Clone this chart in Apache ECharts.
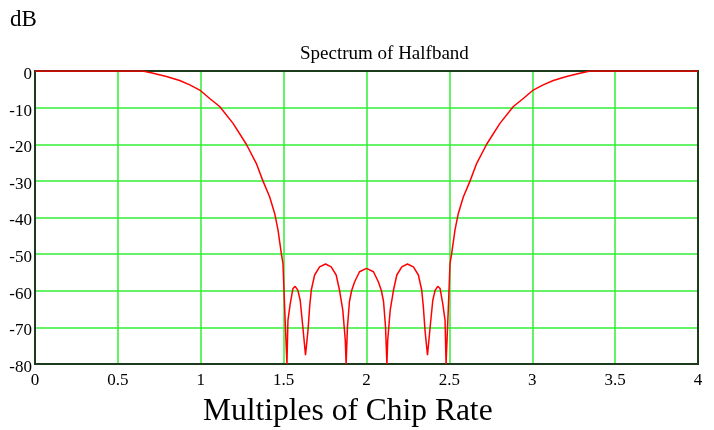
<!DOCTYPE html>
<html>
<head>
<meta charset="utf-8">
<script src="https://cdn.jsdelivr.net/npm/echarts@6/dist/echarts.min.js"></script>
<style>html,body{margin:0;padding:0;background:#fff}#c{width:714px;height:430px}</style>
</head>
<body>
<div id="c"></div>
<script>
var freq = [0,0.65,0.713,0.793,0.873,0.934,0.994,1.054,1.114,1.195,1.275,1.335,1.375,1.416,1.446,1.466,1.486,1.496,1.506,1.52,1.526,1.540,1.556,1.570,1.586,1.600,1.616,1.632,1.647,1.657,1.667,1.687,1.717,1.753,1.787,1.817,1.837,1.857,1.872,1.877,1.885,1.897,1.91,1.928,1.958,2.0,
  2.042,2.072,2.09,2.103,2.115,2.123,2.128,2.143,2.163,2.183,2.213,2.247,2.283,2.313,2.333,2.343,2.353,2.368,2.384,2.400,2.414,2.430,2.444,2.460,2.474,2.48,2.494,2.504,2.514,2.534,2.554,2.584,2.625,2.665,2.725,2.805,2.886,2.946,3.006,3.066,3.127,3.207,3.287,3.35,4];
var magnitude = [0,0,-0.6,-1.5,-2.6,-3.8,-5.2,-7.5,-9.7,-14.3,-20,-25.2,-30,-34.4,-38.9,-43.4,-49.8,-52.5,-64.4,-80,-68.1,-63.5,-59.4,-58.8,-59.9,-62.6,-69.9,-77.6,-70.8,-64.4,-59.8,-55.7,-53.5,-52.7,-53.5,-55.7,-59.8,-65.3,-73.5,-80,-70,-63,-60,-57.6,-54.8,-53.9,
  -54.8,-57.6,-60,-63,-70,-80,-73.5,-65.3,-59.8,-55.7,-53.5,-52.7,-53.5,-55.7,-59.8,-64.4,-70.8,-77.6,-69.9,-62.6,-59.9,-58.8,-59.4,-63.5,-68.1,-80,-64.4,-52.5,-49.8,-43.4,-38.9,-34.4,-30,-25.2,-20,-14.3,-9.7,-7.5,-5.2,-3.8,-2.6,-1.5,-0.6,0,0];
var xTicks = [0,0.5,1,1.5,2,2.5,3,3.5,4];
var yTicks = [0,-10,-20,-30,-40,-50,-60,-70,-80];
var chartTitle = 'Spectrum of Halfband';
var yName = 'dB';
var xName = 'Multiples of Chip Rate';

var serif = '"Liberation Serif","DejaVu Serif",serif';
var frame = '#1c3a1c';
var gridGreen = '#33ee33';
var points = freq.map(function(f,i){return [f, magnitude[i]];});
var xMin = xTicks[0], xMax = xTicks[xTicks.length-1];
var yMin = yTicks[yTicks.length-1], yMax = yTicks[0];
var chart = echarts.init(document.getElementById('c'));
chart.setOption({
  animation:false,
  backgroundColor:'#fff',
  title:[
    {text:yName,left:10,top:8,padding:0,textStyle:{fontFamily:serif,fontSize:23,fontWeight:'normal',color:'#000'}},
    {text:chartTitle,left:300,top:45,padding:0,textStyle:{fontFamily:serif,fontSize:19,fontWeight:'normal',color:'#000'}},
    {text:xName,left:203,top:396,padding:0,textStyle:{fontFamily:serif,fontSize:31.5,fontWeight:'normal',color:'#000'}}
  ],
  grid:{left:35,right:16,top:71,bottom:66,show:true,borderColor:frame,borderWidth:2,backgroundColor:'transparent'},
  xAxis:[
    {type:'value',min:xMin,max:xMax,interval:0.5,position:'bottom',
      axisLine:{show:true,onZero:false,lineStyle:{color:frame,width:2}},
      axisTick:{show:false},
      axisLabel:{margin:8,fontFamily:serif,fontSize:17,color:'#000'},
      splitLine:{show:true,lineStyle:{color:gridGreen,width:1.5}}},
    {type:'value',min:xMin,max:xMax,interval:0.5,position:'top',
      axisLine:{show:true,onZero:false,lineStyle:{color:frame,width:2}},
      axisTick:{show:false},axisLabel:{show:false},splitLine:{show:false}}
  ],
  yAxis:[
    {type:'value',min:yMin,max:yMax,interval:10,position:'left',
      axisLine:{show:true,onZero:false,lineStyle:{color:frame,width:2}},
      axisTick:{show:false},
      axisLabel:{margin:3,fontFamily:serif,fontSize:17,color:'#000',
        formatter:function(v){return '{t|' + v + '}';},
        rich:{t:{fontFamily:serif,fontSize:17,color:'#000',padding:[7,0,0,0]}}},
      splitLine:{show:true,lineStyle:{color:gridGreen,width:1.5}}},
    {type:'value',min:yMin,max:yMax,interval:10,position:'right',
      axisLine:{show:true,onZero:false,lineStyle:{color:frame,width:2}},
      axisTick:{show:false},axisLabel:{show:false},splitLine:{show:false}}
  ],
  series:[{type:'line',data:points,xAxisIndex:0,yAxisIndex:0,showSymbol:false,symbol:'none',smooth:false,clip:true,
    lineStyle:{color:'#ff0000',width:1.5},z:5}]
});
</script>
</body>
</html>
